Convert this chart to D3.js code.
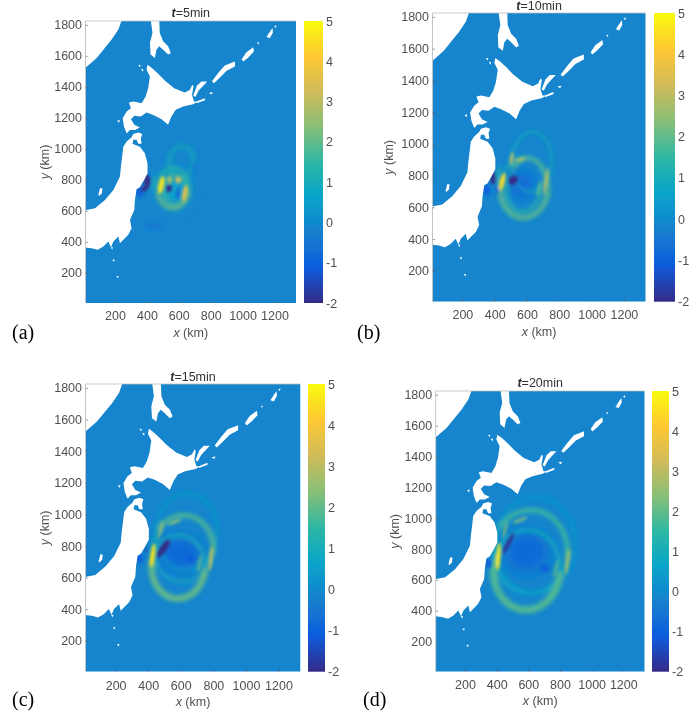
<!DOCTYPE html>
<html>
<head>
<meta charset="utf-8">
<title>Tsunami wave field</title>
<script src="https://cdn.jsdelivr.net/npm/d3@7"></script>
<style>
  html, body { margin: 0; padding: 0; background: #fff; }
  svg { display: block; }
  text { font-family: "Liberation Sans", Arial, sans-serif; }
</style>
</head>
<body>
<svg id="chart" width="697" height="711"></svg>
<script>
// tick labels and ranges
var xTicks = [200, 400, 600, 800, 1000, 1200];
var yTicks = [200, 400, 600, 800, 1000, 1200, 1400, 1600, 1800];
var cTicks = [-2, -1, 0, 1, 2, 3, 4, 5];
var xDomain = [15, 1335];
var yDomain = [5, 1825];
var seaValue = -0.12;

// parula, as on the colour bars
var parula = ['#352a87', '#0f5cdd', '#1580ce', '#06a4ca', '#2eb7a4', '#87bf77', '#d1bb59', '#fec832', '#f9fb0e'];

// coast outlines, x/y in km
var russiaCoast = [[0, 1840], [246, 1840], [221, 1770], [179, 1705], [127, 1640], [85, 1587], [0, 1510]];
var sakhalin = [[423, 1840], [477, 1840], [481, 1748], [502, 1694], [533, 1662], [550, 1619], [533, 1608], [502, 1640], [477, 1662], [460, 1640], [450, 1587], [423, 1608], [419, 1684], [435, 1748]];
var hokkaido = [[404, 1542], [433, 1520], [471, 1484], [512, 1441], [571, 1391], [637, 1363], [669, 1380], [685, 1413], [692, 1402], [683, 1348], [696, 1305], [721, 1305], [690, 1288], [627, 1273], [581, 1252], [554, 1209], [533, 1155], [492, 1191], [440, 1219], [398, 1234], [362, 1209], [321, 1213], [300, 1191], [321, 1155], [356, 1138], [325, 1122], [294, 1122], [273, 1101], [256, 1144], [248, 1198], [273, 1241], [300, 1262], [287, 1299], [315, 1305], [367, 1294], [392, 1337], [408, 1391], [419, 1467], [398, 1510]];
var honshu = [[252, 1014], [273, 1047], [304, 1075], [315, 1096], [346, 1105], [371, 1096], [362, 1068], [367, 1032], [346, 1032], [335, 1058], [315, 1058], [310, 1032], [356, 1014], [387, 972], [404, 907], [404, 842], [383, 800], [356, 752], [335, 739], [325, 670], [321, 606], [294, 541], [304, 488], [283, 445], [231, 391], [221, 434], [190, 402], [175, 365], [158, 402], [127, 369], [92, 348], [54, 359], [0, 365], [0, 602], [75, 617], [137, 670], [190, 735], [231, 821], [237, 885], [246, 961]];
var smallIslands = [
  [[690, 1344], [715, 1408], [742, 1434], [778, 1434], [752, 1406], [725, 1376], [704, 1335]],
  [[808, 1436], [846, 1488], [888, 1538], [952, 1564], [952, 1532], [900, 1504], [858, 1460], [821, 1424]],
  [[994, 1578], [1023, 1622], [1067, 1655], [1071, 1628], [1036, 1590], [1004, 1563]],
  [[1150, 1722], [1175, 1762], [1188, 1780], [1190, 1750], [1171, 1714]],
  [[1198, 1791], [1213, 1798], [1208, 1780]],
  [[1090, 1686], [1104, 1688], [1100, 1674]],
  [[788, 1361], [813, 1367], [806, 1350]],
  [[711, 1305], [763, 1327], [765, 1314], [711, 1294]],
  [[345, 1540], [360, 1542], [357, 1526]],
  [[363, 1517], [378, 1514], [374, 1498]],
  [[213, 1182], [230, 1186], [226, 1168]],
  [[96, 703], [106, 746], [121, 746], [117, 713], [100, 696]],
  [[266, 1116], [282, 1118], [278, 1102]],
  [[172, 364], [187, 366], [183, 350]],
  [[183, 284], [198, 286], [194, 270]],
  [[208, 178], [223, 180], [219, 164]]
];

// wave crests per panel: [x km, y km, rx km, ry km, tilt deg, value m, width km, from deg, to deg]
// angles run clockwise from the top of the ellipse
var ringsA = [
  [616, 918, 77, 100, 5, 1.1, 18, 0, 360],
  [564, 746, 100, 130, 0, 1.5, 18, 0, 360],
  [564, 746, 100, 130, 0, 2.2, 22, 100, 260],
  [575, 735, 70, 96, 0, 1.7, 18, 0, 360]
];
var ringsB = [
  [629, 887, 124, 189, 3, 1.05, 14, 0, 360],
  [583, 726, 149, 193, 5, 1.1, 16, 0, 360],
  [583, 726, 149, 193, 5, 2, 30, 100, 280],
  [598, 667, 134, 242, 3, 2, 22, -40, 90],
  [577, 709, 103, 137, 5, 1.5, 18, 90, 300]
];
var ringsC = [
  [636, 890, 188, 243, 3, 0.8, 12, 0, 360],
  [615, 784, 184, 211, 3, 1, 16, 0, 360],
  [615, 784, 184, 211, 3, 1.9, 28, -55, 95],
  [585, 667, 164, 200, 3, 1.1, 20, 0, 360],
  [585, 667, 164, 200, 3, 2.1, 40, 95, 275]
];
var ringsD = [
  [643, 826, 253, 313, 3, 0.6, 14, 0, 360],
  [611, 783, 236, 270, 3, 0.9, 18, 0, 360],
  [611, 783, 236, 270, 3, 1.7, 30, -55, 95],
  [590, 664, 211, 259, 3, 0.9, 24, 0, 360],
  [590, 664, 211, 259, 3, 1.9, 46, 95, 275]
];

// troughs and bright patches per panel: [x km, y km, rx km, ry km, tilt deg, value m]
var patchesA = [
  [565, 745, 85, 110, 0, 0.7],
  [440, 500, 50, 25, 0, -0.4],
  [356, 724, 25, 40, 0, -0.9],
  [402, 789, 20, 45, 0, -2],
  [381, 739, 18, 18, 0, -2],
  [595, 713, 12, 40, 8, -0.8],
  [700, 880, 8, 35, 0, -0.7],
  [440, 780, 7, 50, 10, 1.2],
  [490, 767, 17, 58, 12, 4.6],
  [638, 712, 14, 55, 10, 3.7],
  [596, 800, 20, 22, 0, 3.1],
  [543, 800, 14, 25, 10, 2.8],
  [539, 746, 18, 24, 0, -2]
];
var patchesB = [
  [567, 740, 65, 65, 0, -1.1],
  [350, 709, 25, 35, 0, -0.9],
  [412, 709, 12, 25, 0, -0.8],
  [391, 782, 16, 40, 5, -2],
  [422, 814, 8, 50, 10, 1.2],
  [447, 762, 14, 58, 14, 4.5],
  [505, 908, 10, 42, 10, 3.1],
  [557, 902, 35, 10, -15, 2.8],
  [718, 762, 12, 85, 8, 2.7],
  [676, 720, 9, 50, 10, 2],
  [515, 772, 26, 32, 40, -2]
];
var patchesC = [
  [595, 753, 130, 100, 0, -0.8],
  [349, 721, 22, 30, 0, -1],
  [386, 774, 8, 18, 0, -1.5],
  [656, 721, 30, 30, 0, -1],
  [493, 784, 20, 68, 35, -2],
  [427, 742, 14, 75, 8, 4.6],
  [476, 900, 8, 58, 14, 2.6],
  [564, 953, 45, 10, -20, 2.4],
  [785, 721, 12, 80, 7, 2.9],
  [714, 689, 8, 55, 12, 2.1]
];
var patchesD = [
  [590, 783, 135, 130, 0, -0.8],
  [348, 707, 20, 30, 0, -1],
  [706, 675, 30, 25, 0, -1],
  [474, 837, 13, 80, 28, -1.9],
  [390, 729, 7, 50, 5, 2.1],
  [411, 751, 13, 90, 4, 4.7],
  [453, 924, 8, 58, 14, 2.3],
  [548, 988, 50, 10, -22, 2.3],
  [847, 718, 12, 85, 8, 2.6],
  [775, 675, 8, 60, 14, 2]
];

// panel boxes in the page, as measured on the figure
var panels = [
  { tag: '(a)', minutes: 5, rings: ringsA, patches: patchesA, left: 85.5, right: 296, top: 21, bottom: 303, barLeft: 304, barRight: 323, titleY: 13, tickY: 316, labelY: 333, yLabelX: 45, tagX: 12, tagY: 339 },
  { tag: '(b)', minutes: 10, rings: ringsB, patches: patchesB, left: 432.5, right: 645.7, top: 13, bottom: 301.7, barLeft: 654, barRight: 675, titleY: 6, tickY: 315, labelY: 332, yLabelX: 389, tagX: 357, tagY: 339 },
  { tag: '(c)', minutes: 15, rings: ringsC, patches: patchesC, left: 85.5, right: 300.5, top: 384, bottom: 671.7, barLeft: 308, barRight: 325, titleY: 377, tickY: 686, labelY: 702, yLabelX: 45, tagX: 12, tagY: 706 },
  { tag: '(d)', minutes: 20, rings: ringsD, patches: patchesD, left: 435.7, right: 644.7, top: 391, bottom: 671.7, barLeft: 652, barRight: 669, titleY: 383, tickY: 685, labelY: 701, yLabelX: 395, tagX: 363, tagY: 706 }
];

var svg = d3.select('#chart');
var defs = svg.append('defs');

function addBlur(id, amount) {
  defs.append('filter').attr('id', id)
    .attr('filterUnits', 'userSpaceOnUse')
    .attr('x', 0).attr('y', 0).attr('width', 697).attr('height', 711)
    .append('feGaussianBlur').attr('stdDeviation', amount);
}
addBlur('soft', 0.5);
addBlur('patchBlur', 1.5);
addBlur('ringBlur', 2.2);
addBlur('wideBlur', 7);

var colour = d3.scaleLinear()
  .domain(parula.map(function (c, i) { return -2 + 7 * i / (parula.length - 1); }))
  .range(parula)
  .interpolate(d3.interpolateRgb);

var gradient = defs.append('linearGradient').attr('id', 'barFill')
  .attr('x1', 0).attr('x2', 0).attr('y1', 1).attr('y2', 0);
gradient.selectAll('stop').data(parula).enter().append('stop')
  .attr('offset', function (c, i) { return i / (parula.length - 1); })
  .attr('stop-color', function (c) { return c; });

var root = svg.append('g').attr('filter', 'url(#soft)');

function styleAxis(g) {
  g.select('.domain').remove();
  g.selectAll('line').attr('stroke', '#666').attr('stroke-width', 0.6);
  g.selectAll('text').attr('fill', '#505050').attr('font-size', 12.5).attr('font-family', '"Liberation Sans", Arial, sans-serif');
}

function drawPanel(p, i) {
  var x = d3.scaleLinear().domain(xDomain).range([p.left, p.right]);
  var y = d3.scaleLinear().domain(yDomain).range([p.bottom, p.top]);
  var c = d3.scaleLinear().domain([-2, 5]).range([p.bottom, p.top]);
  var g = root.append('g').attr('class', 'panel');

  defs.append('clipPath').attr('id', 'clip' + i).append('rect')
    .attr('x', p.left).attr('y', p.top)
    .attr('width', p.right - p.left).attr('height', p.bottom - p.top);

  var map = g.append('g').attr('clip-path', 'url(#clip' + i + ')');
  map.append('rect')
    .attr('x', p.left).attr('y', p.top)
    .attr('width', p.right - p.left).attr('height', p.bottom - p.top)
    .attr('fill', colour(seaValue));

  function tilt(d) {
    return 'rotate(' + d[4] + ' ' + x(d[0]) + ' ' + y(d[1]) + ')';
  }
  function radiusX(d) { return x(d[0] + d[2]) - x(d[0]); }
  function radiusY(d) { return y(d[1]) - y(d[1] + d[3]); }
  function centreX(d) { return x(d[0]); }
  function centreY(d) { return y(d[1]); }

  // walk round one crest from its first angle to its last
  function crestPath(d) {
    var steps = d3.range(d[7], d[8] + 1, 6).map(function (deg) {
      var a = deg * Math.PI / 180;
      return [x(d[0] + d[2] * Math.sin(a)), y(d[1] + d[3] * Math.cos(a))];
    });
    return d3.line().curve(d3.curveCatmullRom)(steps);
  }

  // the wide trough goes under the crests, the narrow patches over them
  var isWide = function (d) { return d[2] > 60; };

  map.append('g').attr('filter', 'url(#wideBlur)').selectAll('ellipse')
    .data(p.patches.filter(isWide)).enter().append('ellipse')
    .attr('cx', centreX).attr('cy', centreY)
    .attr('rx', radiusX).attr('ry', radiusY)
    .attr('fill', function (d) { return colour(d[5]); });

  map.append('g').attr('filter', 'url(#ringBlur)').selectAll('path')
    .data(p.rings).enter().append('path')
    .attr('d', crestPath)
    .attr('transform', tilt)
    .attr('fill', 'none')
    .attr('stroke', function (d) { return colour(d[5]); })
    .attr('stroke-linecap', 'round')
    .attr('stroke-opacity', 0.9)
    .attr('stroke-width', function (d) { return x(d[0] + d[6]) - x(d[0]); });

  map.append('g').attr('filter', 'url(#patchBlur)').selectAll('ellipse')
    .data(p.patches.filter(function (d) { return !isWide(d); })).enter().append('ellipse')
    .attr('cx', centreX).attr('cy', centreY)
    .attr('rx', radiusX).attr('ry', radiusY)
    .attr('transform', tilt)
    .attr('fill', function (d) { return colour(d[5]); });

  var coast = d3.line()
    .x(function (d) { return x(d[0]); })
    .y(function (d) { return y(d[1]); })
    .curve(d3.curveLinearClosed);

  map.append('g').selectAll('path')
    .data([russiaCoast, sakhalin, hokkaido, honshu].concat(smallIslands)).enter().append('path')
    .attr('d', coast)
    .attr('fill', '#fff');

  g.append('path')
    .attr('d', 'M' + p.left + ',' + p.bottom + 'V' + p.top + 'H' + p.right)
    .attr('fill', 'none').attr('stroke', '#bbb').attr('stroke-width', 0.8);

  g.append('g').attr('transform', 'translate(0,' + p.bottom + ')')
    .call(d3.axisBottom(x).tickValues(xTicks).tickFormat(d3.format('d')).tickSize(-2.5).tickPadding(0))
    .call(styleAxis)
    .selectAll('text').attr('y', p.tickY - p.bottom).attr('dy', '0.35em');

  g.append('g').attr('transform', 'translate(' + p.left + ',0)')
    .call(d3.axisLeft(y).tickValues(yTicks).tickFormat(d3.format('d')).tickSize(-2.5).tickPadding(3.5))
    .call(styleAxis);

  g.append('rect')
    .attr('x', p.barLeft).attr('y', p.top)
    .attr('width', p.barRight - p.barLeft).attr('height', p.bottom - p.top)
    .attr('fill', 'url(#barFill)');

  g.append('g').attr('transform', 'translate(' + p.barRight + ',0)')
    .call(d3.axisRight(c).tickValues(cTicks).tickFormat(function (d) { return String(d); }).tickSize(0).tickPadding(3))
    .call(styleAxis);

  var title = g.append('text')
    .attr('x', (p.left + p.right) / 2).attr('y', p.titleY).attr('dy', '0.35em')
    .attr('text-anchor', 'middle').attr('font-size', 12.5).attr('fill', '#333');
  title.append('tspan').attr('font-style', 'italic').attr('font-weight', 'bold').text('t');
  title.append('tspan').text('=' + p.minutes + 'min');

  var xLabel = g.append('text')
    .attr('x', (p.left + p.right) / 2).attr('y', p.labelY).attr('dy', '0.35em')
    .attr('text-anchor', 'middle').attr('font-size', 12.5).attr('fill', '#505050');
  xLabel.append('tspan').attr('font-style', 'italic').text('x');
  xLabel.append('tspan').text(' (km)');

  var yLabel = g.append('text')
    .attr('transform', 'translate(' + p.yLabelX + ',' + ((p.top + p.bottom) / 2) + ') rotate(-90)')
    .attr('dy', '0.35em')
    .attr('text-anchor', 'middle').attr('font-size', 12.5).attr('fill', '#505050');
  yLabel.append('tspan').attr('font-style', 'italic').text('y');
  yLabel.append('tspan').text(' (km)');

  g.append('text')
    .attr('x', p.tagX).attr('y', p.tagY)
    .attr('font-size', 20).attr('fill', '#000')
    .style('font-family', '"Liberation Serif", "Times New Roman", serif')
    .text(p.tag);
}

panels.forEach(drawPanel);
</script>
</body>
</html>
